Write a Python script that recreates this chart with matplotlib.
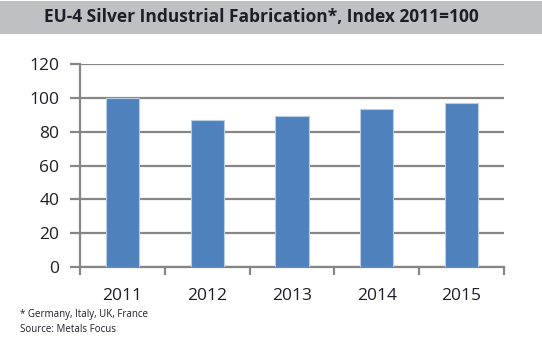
import matplotlib
matplotlib.use("Agg")
import matplotlib.pyplot as plt
from matplotlib.patches import Rectangle

years = ["2011", "2012", "2013", "2014", "2015"]
index_values = [100.0, 86.9, 89.4, 93.2, 96.7]
y_ticks = [0, 20, 40, 60, 80, 100, 120]

title = "EU-4 Silver Industrial Fabrication*, Index 2011=100"
footnote = "* Germany, Italy, UK, France"
source = "Source: Metals Focus"

W, H = 542, 348
fig = plt.figure(figsize=(W / 100, H / 100), dpi=100)
fig.patch.set_facecolor("white")

# Title band
fig.patches.append(Rectangle((0, 1 - 34 / H), 1, 33 / H, transform=fig.transFigure,
                             facecolor="#BFC0C2", edgecolor="none", zorder=0))
fig.text(261 / W, 1 - 17.5 / H, title, ha="center", va="center",
         fontsize=12.5, fontweight="bold", family=["Open Sans", "DejaVu Sans"], color="#1E1E28")

ax = fig.add_axes([80 / W, 1 - 267 / H, 424 / W, 203 / H])
x = list(range(len(years)))
ax.bar(x, index_values, width=0.39, color="#4F81BD", edgecolor="#B9CDE5", linewidth=0.8, zorder=3)

ax.set_xlim(-0.5, len(years) - 0.5)
ax.set_ylim(0, 120)
ax.set_yticks(y_ticks)
ax.set_yticklabels([str(v) for v in y_ticks])
ax.set_xticks(x)
ax.set_xticklabels(years)
ax.set_xticks([i - 0.5 for i in range(len(years) + 1)], minor=True)

grid_c = "#868686"
ax.grid(axis="y", color=grid_c, linewidth=1.6, zorder=1)
for s in ["top", "right"]:
    ax.spines[s].set_visible(False)
for s in ["left", "bottom"]:
    ax.spines[s].set_color(grid_c)
    ax.spines[s].set_linewidth(1.6)

ax.tick_params(axis="y", length=7, width=1.6, color=grid_c, pad=8)
ax.tick_params(axis="x", which="major", length=0, pad=15)
ax.tick_params(axis="x", which="minor", length=6, width=1.6, color=grid_c)
for lab in ax.get_yticklabels() + ax.get_xticklabels():
    lab.set_fontfamily(["Open Sans", "DejaVu Sans"])
    lab.set_fontsize(12.5)
    lab.set_color("#1E1E28")

fig.text(20 / W, 1 - 315 / H, footnote, ha="left", va="center", fontsize=7,
         family=["Open Sans", "DejaVu Sans"], color="#1E1E28")
fig.text(20 / W, 1 - 330 / H, source, ha="left", va="center", fontsize=7,
         family=["Open Sans", "DejaVu Sans"], color="#1E1E28")

fig.savefig("out.png", dpi=100)
